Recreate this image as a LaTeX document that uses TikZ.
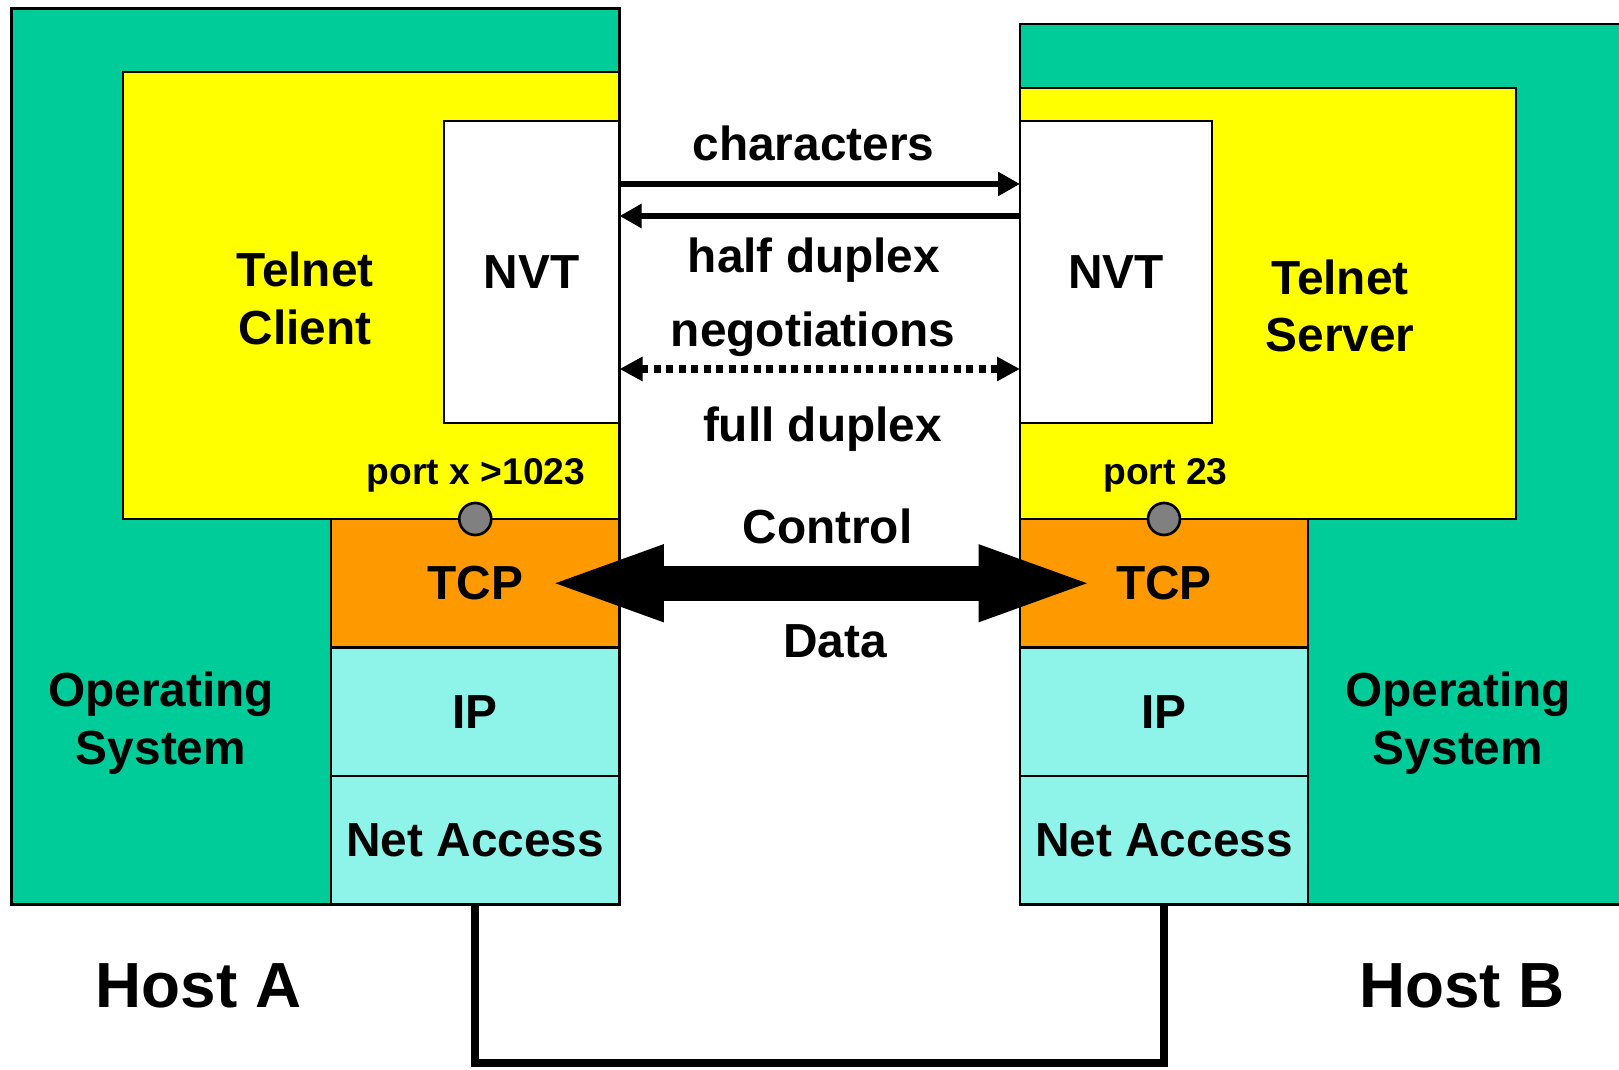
\documentclass[tikz,border=0pt]{standalone}
\usepackage{fontspec}
\setmainfont{Liberation Sans}
\usetikzlibrary{arrows.meta}

\definecolor{osgreen}{HTML}{00CC99}
\definecolor{appyellow}{HTML}{FFFF00}
\definecolor{tcporange}{HTML}{FF9900}
\definecolor{netcyan}{HTML}{8EF4EA}
\definecolor{portgray}{HTML}{808080}

\newcommand\lblfont{\fontsize{27.2}{32.6}\selectfont\bfseries}
\newcommand\portfont{\fontsize{21.2}{24}\selectfont\bfseries}
\newcommand\hostfont{\fontsize{36.3}{40}\selectfont\bfseries}

\begin{document}
\begin{tikzpicture}
  [box/.style = {draw, line width=1.5pt, inner sep=0pt, outer sep=0pt, anchor=north west, font=\lblfont},
   layer/.style = {box, minimum height=2.57cm},
   lbl/.style = {font=\lblfont, align=center, inner sep=0pt},
   port/.style = {circle, draw, line width=1.5pt, fill=portgray, minimum size=0.64cm, inner sep=0pt},
   msg/.style = {line width=3.7pt, -{Triangle[length=0.44cm,width=0.46cm]}},
   nego/.style = {line width=5pt, dash pattern=on 0.14cm off 0.11cm,
                  {Triangle[length=0.46cm,width=0.46cm]}-{Triangle[length=0.46cm,width=0.46cm]}},
   pipe/.style = {line width=0.7cm, {Triangle[length=2.4cm,width=1.34cm]}-{Triangle[length=2.4cm,width=1.34cm]}},
   wire/.style = {line width=4.8pt}]

\useasboundingbox (0,0) rectangle (32.38,21.38);
\clip (0,0) rectangle (32.38,21.38);

% Hosts
\node[box, fill=osgreen, minimum width=12.16cm, minimum height=17.92cm] (hostA) at (0.23,21.21) {};
\node[box, fill=osgreen, minimum width=13cm, minimum height=17.61cm] (hostB) at (20.4,20.9) {};

% Telnet applications
\node[box, fill=appyellow, minimum width=9.93cm, minimum height=8.94cm] (client) at (2.46,19.94) {};
\node[box, fill=appyellow, minimum width=9.92cm, minimum height=8.62cm] (server) at (20.4,19.62) {};
\node[box, fill=white, minimum width=3.51cm, minimum height=6.04cm] (nvtA) at (8.88,18.96) {NVT};
\node[box, fill=white, minimum width=3.84cm, minimum height=6.04cm] (nvtB) at (20.4,18.96) {NVT};

% Protocol stack A
\node[layer, fill=tcporange, minimum width=5.77cm] (tcpA) at (6.62,11.0) {TCP};
\node[layer, fill=netcyan, minimum width=5.77cm] (ipA) at (tcpA.south west) {IP};
\node[layer, fill=netcyan, minimum width=5.77cm] (netA) at (ipA.south west) {Net Access};

% Protocol stack B
\node[layer, fill=tcporange, minimum width=5.76cm] (tcpB) at (20.4,11.0) {TCP};
\node[layer, fill=netcyan, minimum width=5.76cm] (ipB) at (tcpB.south west) {IP};
\node[layer, fill=netcyan, minimum width=5.76cm] (netB) at (ipB.south west) {Net Access};

% Ports
\node[port] (portA) at (tcpA.north) {};
\node[port] (portB) at (tcpB.north) {};
\node[font=\portfont, anchor=base, inner sep=0pt] (portAlbl) at (9.52,11.68) {port x >1023};
\node[font=\portfont, anchor=base, inner sep=0pt] (portBlbl) at (23.31,11.68) {port 23};

% Labels
\node[lbl] (clientlbl) at (6.1,15.41) {Telnet\\Client};
\node[lbl] (serverlbl) at (26.8,15.26) {Telnet\\Server};
\node[lbl] (osA) at (3.22,6.92) {Operating\\System};
\node[lbl] (osB) at (29.16,6.92) {Operating\\System};
\node[font=\hostfont, anchor=base, inner sep=0pt] (hostAlbl) at (3.97,1.23) {Host A};
\node[font=\hostfont, anchor=base, inner sep=0pt] (hostBlbl) at (29.24,1.23) {Host B};

% NVT traffic
\draw[msg] ([yshift=1.76cm]nvtA.east) -- ([yshift=1.76cm]nvtB.west);
\draw[msg] ([yshift=1.12cm]nvtB.west) -- ([yshift=1.12cm]nvtA.east);
\draw[nego] ([yshift=-1.94cm]nvtA.east) -- ([yshift=-1.94cm]nvtB.west);
\node[lbl, anchor=base] (charslbl) at (16.27,18.16) {characters};
\node[lbl, anchor=base] (halflbl) at (16.28,15.92) {half duplex};
\node[lbl, anchor=base] (negolbl) at (16.26,14.45) {negotiations};
\node[lbl, anchor=base] (fulllbl) at (16.45,12.55) {full duplex};

% TCP connection
\draw[pipe] ([xshift=1.37cm]tcpA.center) -- ([xshift=-1.31cm]tcpB.center);
\node[lbl, anchor=base] (ctrllbl) at (16.55,10.5) {Control};
\node[lbl, anchor=base] (datalbl) at (16.7,8.23) {Data};

% Network
\coordinate (bus) at (0,0.12);
\draw[wire] (netA.south) -- (netA.south |- bus) -| (netB.south);

\end{tikzpicture}
\end{document}
